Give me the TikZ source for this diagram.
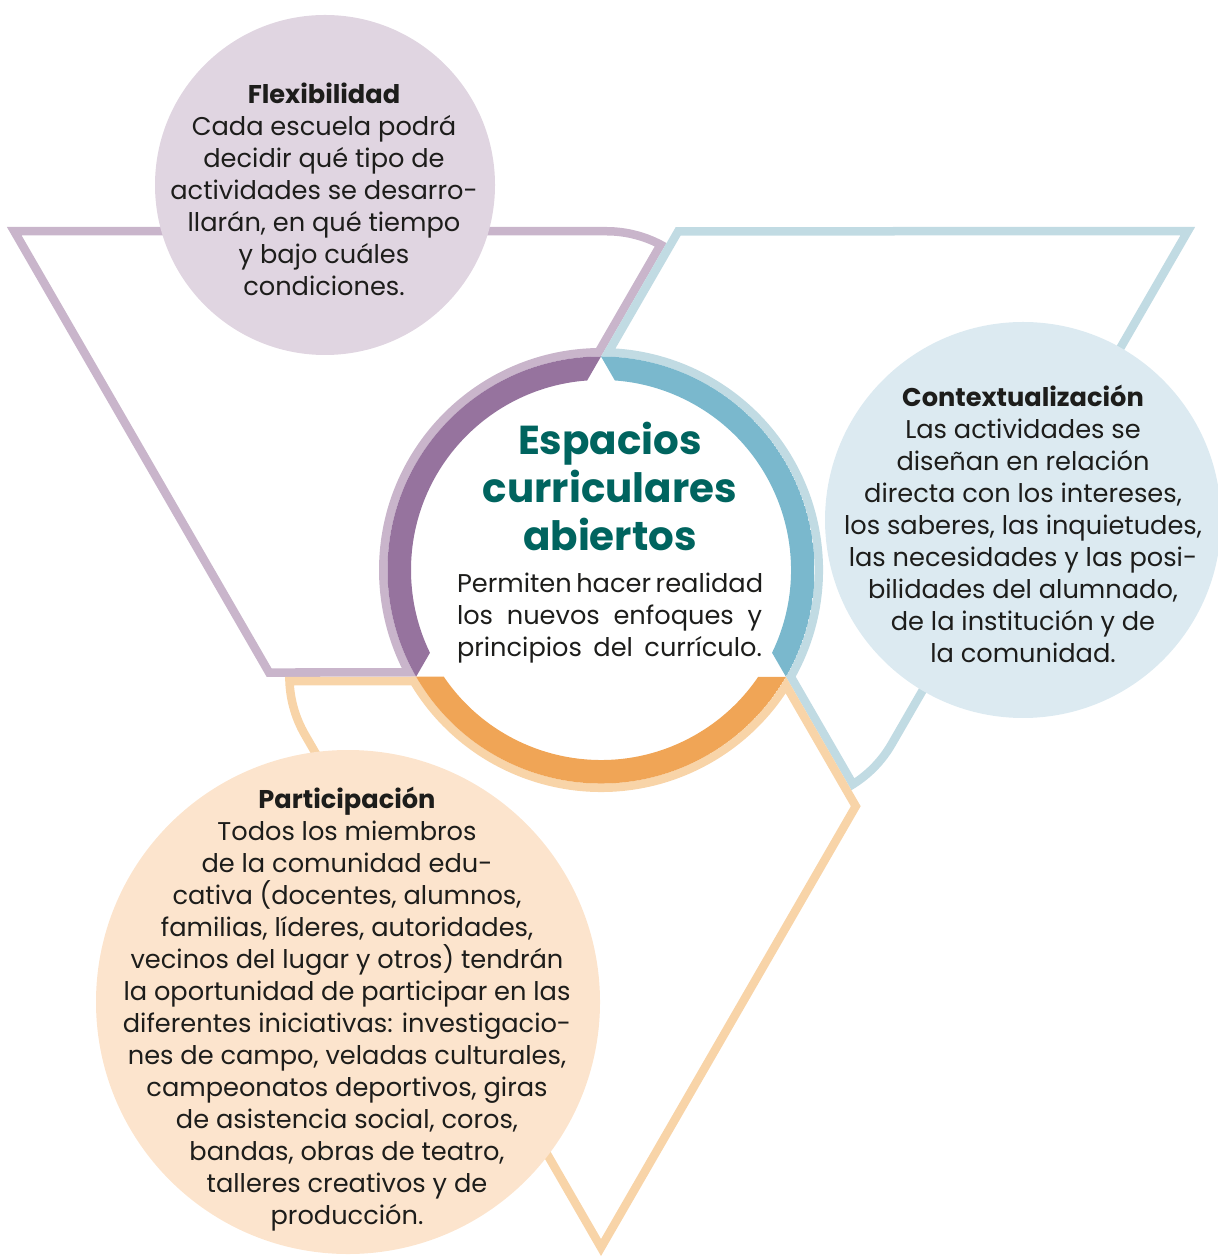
\documentclass[tikz,border=0pt]{standalone}
\usepackage{fontspec}
\setmainfont{Poppins}
\definecolor{flexline}{HTML}{C9B5CB}
\definecolor{flexband}{HTML}{96739E}
\definecolor{flexfill}{HTML}{E0D5E1}
\definecolor{ctxline}{HTML}{C1DBE3}
\definecolor{ctxband}{HTML}{7AB8CD}
\definecolor{ctxfill}{HTML}{DCEAF1}
\definecolor{partline}{HTML}{F8D4A8}
\definecolor{partband}{HTML}{F0A556}
\definecolor{partfill}{HTML}{FCE4CD}
\definecolor{titleteal}{HTML}{00645F}
\definecolor{inkgray}{HTML}{1D1D1B}

% one truncated triangle hugging the centre circle
\newcommand{\wedgepath}{(-5.941,3.43) -- (0.0547,3.43)
  arc[start angle=90, end angle=60, radius=1.2] -- (90:2.135)
  arc[start angle=90, end angle=210, radius=2.135]
  -- (-3.344,-1.0675) -- cycle}

\begin{document}
\begin{tikzpicture}[
  bubble/.style={circle, inner sep=0pt},
  body/.style={text=inkgray, align=center, font=\fontsize{7.3}{9.1}\selectfont},
]
  \useasboundingbox (0,0) rectangle (12.17,-12.57);
  \coordinate (c) at (6.01,-5.70);
  % outlines and ring
  \foreach \ang/\lc/\bc in {0/flexline/flexband, -120/ctxline/ctxband, 120/partline/partband} {
    \begin{scope}[shift={(c)}, rotate=\ang]
      \begin{scope}
        \clip \wedgepath;
        \draw [line width=0.17cm, \lc] \wedgepath;
      \end{scope}
      \begin{scope}
        \clip (90:2.135) arc[start angle=90, end angle=210, radius=2.135] -- cycle;
        \fill [\bc, even odd rule] (0,0) circle (2.135) (0,0) circle (1.9);
      \end{scope}
    \end{scope}
  }
  % bubbles
  \node [bubble, fill=flexfill, minimum size=3.40cm] (flex) at (3.25,-1.85) {};
  \node [bubble, fill=ctxfill, minimum size=3.96cm] (ctx) at (10.23,-5.20) {};
  \node [bubble, fill=partfill, minimum size=5.04cm] (part) at (3.48,-10.02) {};
  % texts
  \node [body] (flextext) at (3.24,-1.89) {\textbf{Flexibilidad}\\Cada escuela podrá\\decidir qué tipo de\\actividades se desarro-\\llarán, en qué tiempo\\y bajo cuáles\\condiciones.};
  \node [body] (ctxtext) at (10.23,-5.24) {\textbf{Contextualización}\\Las actividades se\\diseñan en relación\\directa con los intereses,\\los saberes, las inquietudes,\\las necesidades y las posi-\\bilidades del alumnado,\\de la institución y de\\la comunidad.};
  \node [body] (parttext) at (3.47,-10.09) {\textbf{Participación}\\Todos los miembros\\de la comunidad edu-\\cativa (docentes, alumnos,\\familias, líderes, autoridades,\\vecinos del lugar y otros) tendrán\\la oportunidad de participar en las\\diferentes iniciativas: investigacio-\\nes de campo, veladas culturales,\\campeonatos deportivos, giras\\de asistencia social, coros,\\bandas, obras de teatro,\\talleres creativos y de\\producción.};
  \node [text=titleteal, align=center, font=\bfseries\fontsize{11.5}{13.66}\selectfont] (title) at (6.10,-4.86) {Espacios\\curriculares\\abiertos};
  \node [body, align=left] (lead) at (6.095,-6.18) {\makebox[3.05cm][s]{Permiten hacer realidad}\\\makebox[3.05cm][s]{los nuevos enfoques y}\\\makebox[3.05cm][s]{principios del currículo.}};
\end{tikzpicture}
\end{document}
